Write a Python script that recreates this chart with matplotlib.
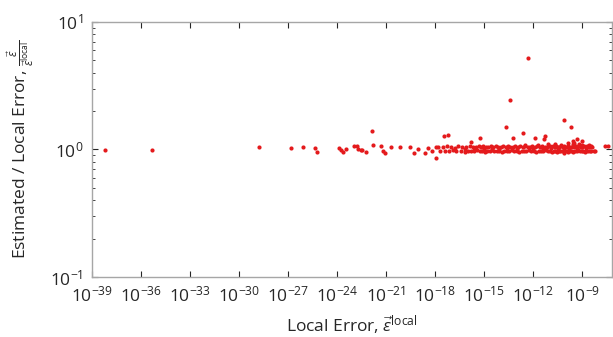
import numpy as np
import matplotlib
matplotlib.use('Agg')
import matplotlib.pyplot as plt
import matplotlib.ticker as mtick

plt.rcParams.update({'font.family': 'Open Sans', 'font.size': 12,
                     'mathtext.fontset': 'custom', 'mathtext.rm': 'Open Sans',
                     'mathtext.it': 'Open Sans:italic', 'mathtext.bf': 'Open Sans:bold'})

# log10 of the local error, and the estimated/local ratio
# isolated points
iso_exp = [-38.20, -35.35, -28.79, -26.85, -26.11, -25.34, -25.22, -23.87, -23.77, -23.67,
           -23.48, -22.99, -22.81, -22.71, -22.55, -22.47, -22.22, -21.89, -21.81, -21.32,
           -21.18, -21.10, -20.69, -20.14, -19.55, -19.31, -19.08, -18.61, -18.43, -18.20,
           -17.96, -17.98, -17.47, -17.24, -15.80, -15.25, -13.70, -13.42, -13.25, -12.64,
           -12.35, -11.91, -11.37, -11.29, -10.11, -9.72, -9.56, -9.35, -9.05, -7.62, -7.42]
iso_ratio = [0.99, 0.99, 1.05, 1.02, 1.05, 1.02, 0.96, 1.02, 0.99, 0.96,
             1.01, 1.065, 1.06, 1.01, 0.99, 0.99, 0.96, 1.40, 1.08, 1.07,
             0.98, 0.94, 1.05, 1.05, 1.04, 0.94, 1.00, 0.94, 1.02, 0.98,
             1.05, 0.85, 1.28, 1.29, 1.14, 1.23, 1.51, 2.43, 1.23, 1.35,
             5.19, 1.23, 1.20, 1.28, 1.71, 1.49, 1.16, 1.20, 1.17, 1.065, 1.065]

# dense band, upper row
up_exp = [-17.80, -17.55, -17.30, -17.05, -16.80, -16.60, -16.35, -16.10, -15.90, -15.70,
          -15.50, -15.35, -15.20, -15.05, -14.90, -14.75, -14.60, -14.45, -14.30, -14.15,
          -14.00, -13.85, -13.70, -13.55, -13.40, -13.25, -13.10, -12.95, -12.80, -12.65,
          -12.50, -12.35, -12.20, -12.05, -11.90, -11.75, -11.60, -11.45, -11.30, -11.15,
          -11.00, -10.90, -10.80, -10.70, -10.60, -10.50, -10.40, -10.30, -10.20, -10.10,
          -10.00, -9.90, -9.80, -9.70, -9.60, -9.50, -9.40, -9.30, -9.20, -9.10,
          -9.00, -8.90, -8.80, -8.70, -8.60, -8.50, -8.40]
up_ratio = [1.05, 1.04, 1.06, 1.05, 1.03, 1.06, 1.05, 1.04, 1.06, 1.05,
            1.04, 1.06, 1.05, 1.07, 1.05, 1.04, 1.06, 1.05, 1.06, 1.04,
            1.05, 1.07, 1.05, 1.06, 1.04, 1.05, 1.06, 1.05, 1.07, 1.05,
            1.06, 1.04, 1.05, 1.06, 1.05, 1.07, 1.05, 1.06, 1.04, 1.05,
            1.06, 1.05, 1.07, 1.05, 1.06, 1.05, 1.04, 1.06, 1.05, 1.07,
            1.05, 1.06, 1.05, 1.04, 1.06, 1.05, 1.07, 1.05, 1.06, 1.05,
            1.04, 1.06, 1.05, 1.07, 1.05, 1.06, 1.05]

# dense band, lower row
lo_exp = [-17.70, -17.40, -17.15, -16.90, -16.70, -16.45, -16.20, -16.00, -15.80, -15.60,
          -15.42, -15.28, -15.12, -14.98, -14.82, -14.68, -14.52, -14.38, -14.22, -14.08,
          -13.92, -13.78, -13.62, -13.48, -13.32, -13.18, -13.02, -12.88, -12.72, -12.58,
          -12.42, -12.28, -12.12, -11.98, -11.82, -11.68, -11.52, -11.38, -11.22, -11.08,
          -10.95, -10.85, -10.75, -10.65, -10.55, -10.45, -10.35, -10.25, -10.15, -10.05,
          -9.95, -9.85, -9.75, -9.65, -9.55, -9.45, -9.35, -9.25, -9.15, -9.05,
          -8.95, -8.85, -8.75, -8.65, -8.55, -8.45, -8.30, -8.20]
lo_ratio = [0.98, 0.97, 0.98, 0.99, 0.97, 0.98, 0.96, 0.98, 0.97, 0.98,
            0.99, 0.97, 0.98, 0.96, 0.98, 0.97, 0.99, 0.98, 0.97, 0.98,
            0.96, 0.98, 0.97, 0.98, 0.99, 0.97, 0.98, 0.96, 0.98, 0.97,
            0.98, 0.99, 0.97, 0.98, 0.96, 0.98, 0.97, 0.98, 0.99, 0.97,
            0.98, 0.96, 0.98, 0.97, 0.95, 0.98, 0.97, 0.98, 0.94, 0.97,
            0.98, 0.96, 0.98, 0.97, 0.95, 0.98, 0.97, 0.99, 0.98, 0.97,
            0.98, 0.96, 0.98, 0.97, 0.98, 0.97, 0.98, 0.98]

# points filling the band between the rows and just above it
mid_exp = [-16.2, -15.6, -15.0, -14.5, -14.1, -13.6, -13.0, -12.5, -12.0, -11.7,
           -11.4, -11.1, -10.9, -10.7, -10.5, -10.3, -10.1, -9.9, -9.8, -9.6,
           -9.5, -9.3, -9.2, -9.0, -8.8, -8.6]
mid_ratio = [1.01, 1.02, 1.01, 1.02, 1.00, 1.02, 1.01, 1.09, 1.02, 1.08,
             1.01, 1.10, 1.02, 1.11, 1.01, 1.09, 1.02, 1.12, 1.01, 1.10,
             1.13, 1.02, 1.11, 1.09, 1.02, 1.08]

xexp = np.array(iso_exp + up_exp + lo_exp + mid_exp)
ratio = np.array(iso_ratio + up_ratio + lo_ratio + mid_ratio)

fig = plt.figure(figsize=(6.13, 3.37), dpi=100)
ax = fig.add_axes([0.150, 0.178, 0.848, 0.757])
ax.plot(10.0 ** xexp, ratio, 'o', color='#e41a1c', markersize=3.0, markeredgewidth=0)

ax.set_xscale('log')
ax.set_yscale('log')
ax.set_xlim(1e-39, 10 ** -7.2)
ax.set_ylim(0.1, 10)

xt = [10.0 ** e for e in range(-39, -8, 3)]
ax.xaxis.set_major_locator(mtick.FixedLocator(xt))
ax.xaxis.set_minor_locator(mtick.NullLocator())
ax.xaxis.set_major_formatter(mtick.LogFormatterMathtext())
ax.yaxis.set_major_locator(mtick.FixedLocator([0.1, 1, 10]))
ax.yaxis.set_minor_locator(mtick.LogLocator(base=10, subs=np.arange(2, 10)))
ax.yaxis.set_minor_formatter(mtick.NullFormatter())

for s in ax.spines.values():
    s.set_color('#a6a6a6')
    s.set_linewidth(1.0)
ax.tick_params(which='both', direction='in', top=True, right=True, colors='#262626',
               labelsize=12.5)
ax.tick_params(which='major', length=4, width=0.8)
ax.tick_params(which='minor', length=2.5, width=0.6)
ax.tick_params(axis='x', pad=6)
ax.tick_params(axis='y', pad=6)

ax.set_xlabel(r'Local Error, $\vec{\varepsilon}^{\mathrm{local}}$', fontsize=12.5,
              color='#262626', labelpad=6)
ax.set_ylabel(r'Estimated / Local Error, $\frac{\vec{\varepsilon}}{\vec{\varepsilon}^{\mathrm{local}}}$',
              fontsize=12.5, color='#262626', labelpad=10)

fig.savefig('out.png', dpi=100)
